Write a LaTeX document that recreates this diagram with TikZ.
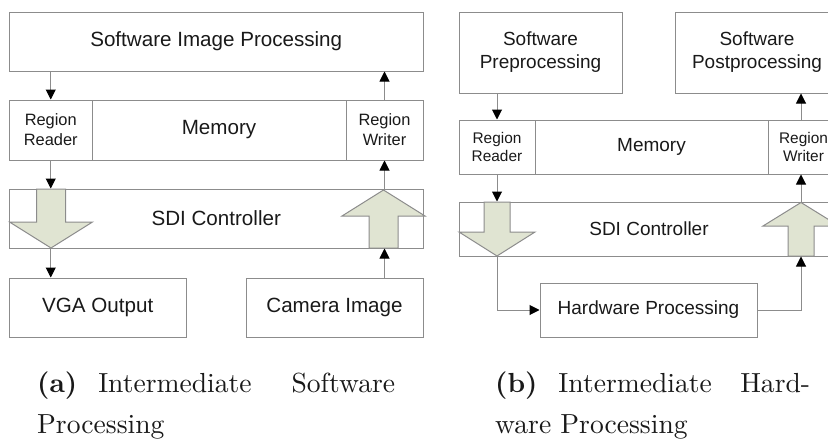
\documentclass[tikz,border=0pt]{standalone}
\usepackage{fontspec}
\setsansfont{Liberation Sans}
\usetikzlibrary{arrows.meta}
\definecolor{lg}{RGB}{140,140,140}
\definecolor{af}{RGB}{224,228,210}
\definecolor{txt}{RGB}{25,25,25}
\begin{document}
\begin{tikzpicture}[x=1pt,y=-1pt,
  box/.style={draw=lg, line width=1pt, inner sep=0pt, text=txt, align=center,
    font=\sffamily\fontsize{20.6}{24}\selectfont},
  rbox/.style={box, font=\sffamily\fontsize{19}{23}\selectfont},
  lsmall/.style={font=\sffamily\fontsize{16.4}{20}\selectfont},
  rsmall/.style={font=\sffamily\fontsize{15.4}{18.5}\selectfont},
  conn/.style={draw=lg, line width=1pt, -{Triangle[width=10pt,length=10pt,color=black]}},
  blk/.style={draw=lg, fill=af, line width=1pt, line join=miter},
  captext/.style={anchor=base west, inner sep=0pt, text=txt}]
\useasboundingbox (0,0) rectangle (828,439);
\clip (0,0) rectangle (828,439);

% ---------- (a) ----------
\node[box, minimum width=413.5pt, minimum height=59pt] (sip) at (216.25,41.5) {Software Image Processing};
\node[box, lsmall, minimum width=82.5pt, minimum height=60pt] (reader) at (50.75,130) {Region\\Reader};
\node[box, minimum width=254pt, minimum height=60pt] (memory) at (219,130) {Memory};
\node[box, lsmall, minimum width=77pt, minimum height=60pt] (writer) at (384.5,130) {Region\\Writer};
\node[box, minimum width=413.5pt, minimum height=59pt] (sdi) at (216.25,218.5) {SDI Controller};
\node[box, minimum width=176.5pt, minimum height=59pt] (vga) at (97.75,307.5) {VGA Output};
\node[box, minimum width=177pt, minimum height=59pt] (cam) at (334.5,307.5) {Camera Image};

\path[blk] (36.5,189) -- (36.5,222) -- (9.5,222) -- (51,248) -- (92.5,222) -- (65.5,222) -- (65.5,189) -- cycle;
\path[blk] (369,248) -- (369,216) -- (342,216) -- (383.5,190) -- (425,216) -- (398,216) -- (398,248) -- cycle;

\draw[conn] (sip.south -| reader.south) -- (reader.north);
\draw[conn] (reader.south) -- (sdi.north -| reader.south);
\draw[conn] (sdi.south -| reader.south) -- (vga.north -| reader.south);
\draw[conn] (cam.north -| writer.south) -- (sdi.south -| writer.south);
\draw[conn] (sdi.north -| writer.south) -- (writer.south);
\draw[conn] (writer.north) -- (sip.south -| writer.north);

% ---------- (b) ----------
\node[rbox, minimum width=163pt, minimum height=81pt] (pre) at (540.5,52.5) {Software\\Preprocessing};
\node[rbox, minimum width=164pt, minimum height=81pt] (post) at (757,52.5) {Software\\Postprocessing};
\node[rbox, rsmall, minimum width=76pt, minimum height=54pt] (rreader) at (497,147) {Region\\Reader};
\node[rbox, minimum width=233pt, minimum height=54pt] (rmem) at (651.5,147) {Memory};
\node[rbox, rsmall, minimum width=71pt, minimum height=54pt] (rwriter) at (803.5,147) {Region\\Writer};
\node[rbox, minimum width=380pt, minimum height=54pt] (rsdi) at (649,229) {SDI Controller};
\node[rbox, minimum width=217pt, minimum height=54pt] (hw) at (648.5,310) {Hardware Processing};

\path[blk] (484,202) -- (484,232) -- (459,232) -- (497,256) -- (535,232) -- (510,232) -- (510,202) -- cycle;
\path[blk] (788,256) -- (788,226) -- (763,226) -- (801,202.5) -- (839,226) -- (814,226) -- (814,256) -- cycle;

\draw[conn] (pre.south -| rreader.north) -- (rreader.north);
\draw[conn] (rreader.south) -- (rsdi.north -| rreader.south);
\draw[conn] (rsdi.south -| rreader.south) |- (hw.west);
\draw[conn] (hw.east) -| (rsdi.south -| 801,0);
\draw[conn] (rsdi.north -| 801,0) -- (rwriter.south -| 801,0);
\draw[conn] (rwriter.north -| 801,0) -- (post.south -| 801,0);

% ---------- captions ----------
\node[captext] (capa) at (37,392) {\scalebox{2.76}{\parbox[t]{129.7pt}{\fontsize{10}{15}\selectfont\textbf{(a)}\hspace{7.6pt}Intermediate Software\linebreak Processing}}};
\node[captext] (capb) at (495,392) {\scalebox{2.76}{\parbox[t]{114.1pt}{\fontsize{10}{15}\selectfont\textbf{(b)}\hspace{7.6pt}Intermediate Hard-\linebreak ware Processing}}};
\end{tikzpicture}
\end{document}
